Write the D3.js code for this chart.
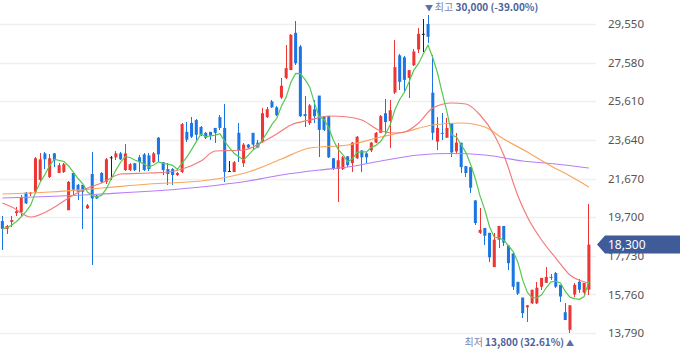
<!DOCTYPE html>
<html><head><meta charset="utf-8">
<script src="https://cdn.jsdelivr.net/npm/d3@7"></script>
<style>
html,body{margin:0;padding:0;background:#fff;overflow:hidden;}
svg{display:block;font-family:"Noto Sans","Noto Sans CJK KR",sans-serif;}
</style></head><body>
<svg id="chart" width="680" height="358"></svg>
<script>
// daily OHLC (KRW), oldest -> newest
const openP = [
19500,19100,19450,19900,19950,20950,20900,21000,21600,22950,
21750,22950,21950,22000,20050,21950,21350,21350,20150,21900,
20800,21950,21500,22750,22750,22950,22100,22100,22450,22750,
22900,22850,22500,23750,22500,22150,22150,21850,22000,24050,
24500,24650,24300,24000,24050,24250,24800,24250,22050,22000,
24000,22450,23400,24000,23500,23550,24800,25600,25300,25800,
26800,27200,29100,28400,24950,24500,25200,25900,24850,24850,
22700,22150,22150,22800,22450,22700,23100,22950,23100,23500,
24000,25000,24600,26050,27950,27850,26800,27450,28250,29050,
29550,26050,23550,24000,23750,24500,23050,23500,22300,22250,
20550,18900,19150,18900,17150,18550,19250,18250,17850,16400,
15600,15100,15300,15300,16150,16350,16600,16850,16250,14850,
13950,15750,16400,15850,16000];
const highP = [
19750,19300,19750,20200,20850,21000,21000,22750,22950,23000,
22900,22950,22450,22450,21550,22000,21400,21350,20350,23000,
20850,22000,22700,22800,23050,23000,23450,22450,22450,22850,
22950,22950,23000,23800,22500,22450,22200,22000,24500,24550,
24800,24700,24350,24050,24050,24250,24900,25450,22550,22550,
24500,23500,23450,24000,23650,25250,25300,25650,25350,26800,
28500,29050,29700,28500,25900,25450,25650,25900,24850,24850,
22700,23500,22800,22800,23550,23850,23100,23000,23550,24050,
24900,25750,25650,28750,28000,27900,27200,28250,29350,29800,
30000,27950,24800,25000,24750,24500,24000,23500,22300,22250,
20550,20150,19150,18900,18900,19250,19250,18300,17850,16400,
15600,15200,16000,16400,16600,17150,16800,16900,16250,15300,
15200,16350,16550,16350,20350];
const lowP = [
18000,18850,19200,19750,19750,20350,20800,21000,21550,22150,
21700,22250,21950,21950,20050,20850,20550,19100,20100,17250,
20600,21450,21400,21600,22600,22600,22050,22050,22050,22000,
22050,22050,22450,22500,21850,21350,21350,21800,21950,23550,
23750,23650,23850,23700,23650,23500,24150,21500,22000,22000,
22500,22250,23150,23100,23250,23500,24750,25250,24850,25750,
26750,27200,27450,24800,24300,24400,24500,22750,24100,22700,
22100,20450,22100,22250,22000,22650,22000,22450,23000,23500,
24000,24000,23250,26000,26200,26050,25800,27400,28050,28100,
28600,23650,23100,23650,23750,22750,22950,21950,21750,20950,
19300,18850,18300,17400,17150,18150,18250,17000,16000,15750,
14550,14350,15250,15250,16000,16350,16500,16100,15350,14450,
13800,15650,15850,15750,15750];
const closeP = [
19100,19250,19550,20000,20700,20400,20950,22700,22650,22650,
22700,22600,22350,22400,21500,21100,21000,21000,20300,20650,
20650,21500,22650,22750,22950,22650,22950,22400,22100,22500,
22100,22150,22950,22900,22100,21900,21850,21950,24450,23650,
23800,23900,23900,23750,23850,24000,24250,22000,22050,22500,
23100,23400,23250,23400,23250,25000,25200,25300,24900,26400,
27300,29000,27550,24850,24850,25400,24850,24150,24150,22750,
22150,22600,22750,22350,23500,23800,22750,22750,23500,24000,
24850,24550,25150,27350,26600,26700,27200,28150,29050,29050,
28900,24000,24250,23950,24250,23000,23500,22250,21950,21200,
19400,19050,18750,17650,18550,19250,18400,17350,16150,15800,
14800,15200,16000,16100,16600,16650,16650,16150,15650,14450,
15200,16250,16000,16350,18300];

// moving averages: [day index, value]
const ma20 = [[0,20420],[2,20216],[6,19706],[10,20063],[14,20675],[17,21083],[21,21440],
  [25,21899],[31,21950],[35,22001],[38,22154],[42,22562],[45,23072],[51,23123],[55,23531],
  [58,23939],[61,24398],[65,24653],[69,24857],[73,24806],[76,24653],[80,24092],[83,23990],
  [85,24041],[88,24500],[91,25265],[95,25520],[98,25469],[101,24908],[104,23888],[106,22868],
  [109,20777],[111,19706],[114,18533],[117,17615],[120,16748],[124,16340]];
const ma60 = [[0,20879],[10,20981],[21,21185],[31,21389],[42,21542],[52,22001],[59,22664],
  [65,23225],[73,23378],[80,23786],[85,24041],[91,24398],[97,24500],[102,24296],[106,23684],
  [111,23021],[116,22307],[120,21797],[124,21236]];
const ma120 = [[0,20675],[21,20879],[42,21236],[52,21542],[59,21848],[67,22103],[73,22256],
  [80,22562],[88,22868],[95,22944],[102,22868],[110,22562],[117,22409],[124,22205]];

const yTicks = [13790,15760,17730,19700,21670,23640,25610,27580,29550];
const lastPrice = 18300;
const maxPrice = 30000, maxPct = "(-39.00%)", maxLabel = "최고";
const minPrice = 13800, minPct = "(32.61%)", minLabel = "최저";

const n = closeP.length;
const days = d3.range(n);
const svg = d3.select("#chart");

const x = d3.scaleBand().domain(days).range([0, n * 4.73]).paddingInner(0.36).paddingOuter(0.18);
const y = d3.scaleLinear().domain([13790, 29550]).range([333, 24]);
const cx = i => x(i) + x.bandwidth() / 2;

// grid
svg.append("g").selectAll("line").data(yTicks).join("line")
  .attr("x1", 0).attr("x2", 596)
  .attr("y1", d => Math.round(y(d)) + 0.5).attr("y2", d => Math.round(y(d)) + 0.5)
  .attr("stroke", "#eef0f3").attr("stroke-width", 1.6);

// axis
const ax = svg.append("g").attr("transform", "translate(604,0)")
  .call(d3.axisRight(y).tickValues(yTicks).tickFormat(d3.format(",")).tickSize(0).tickPadding(4));
ax.select(".domain").remove();
ax.selectAll("text").attr("fill", "#555").attr("font-size", 11.5)
  .attr("font-family", "'Noto Sans', sans-serif");

// candles
const colorOf = i => closeP[i] > openP[i] ? "#ef3434" : closeP[i] < openP[i] ? "#1b76e3" : "#222";
const cg = svg.append("g");
cg.selectAll("line").data(days).join("line")
  .attr("x1", i => cx(i)).attr("x2", i => cx(i))
  .attr("y1", i => y(highP[i])).attr("y2", i => y(lowP[i]))
  .attr("stroke", colorOf).attr("stroke-width", 1).attr("shape-rendering", "crispEdges");
cg.selectAll("rect").data(days).join("rect")
  .attr("x", i => x(i)).attr("width", x.bandwidth())
  .attr("y", i => y(Math.max(openP[i], closeP[i])))
  .attr("height", i => Math.max(1, Math.abs(y(openP[i]) - y(closeP[i]))))
  .attr("fill", colorOf);

// moving averages
const ma5 = days.map(i => [i, d3.mean(closeP.slice(Math.max(0, i - 4), i + 1))]);
const lineMono = d3.line().x(d => cx(d[0])).y(d => y(d[1])).curve(d3.curveMonotoneX);
const lineLin = d3.line().x(d => cx(d[0])).y(d => y(d[1]));
const mg = svg.append("g").attr("fill", "none").attr("stroke-width", 1.2);
mg.append("path").attr("d", lineMono(ma120)).attr("stroke", "#b57ff5");
mg.append("path").attr("d", lineMono(ma60)).attr("stroke", "#f9a65e");
mg.append("path").attr("d", lineMono(ma20)).attr("stroke", "#f47b7b");
mg.append("path").attr("d", lineLin(ma5)).attr("stroke", "#55c94f");

// current price tag
const py = y(lastPrice);
svg.append("path")
  .attr("d", `M597,${py} L605,${py - 9} L680,${py - 9} L680,${py + 9} L605,${py + 9} Z`)
  .attr("fill", "#3f5b98");
svg.append("text").attr("x", 608).attr("y", py).attr("dy", "0.35em")
  .attr("fill", "#fff").attr("font-size", 12).text(d3.format(",")(lastPrice));

// max / min annotations
const iMax = d3.maxIndex(highP), iMin = d3.minIndex(lowP);
const maxText = svg.append("text").attr("x", cx(iMax) - 3).attr("y", 11)
  .attr("font-size", 10).attr("font-family", "'Noto Sans CJK KR','Noto Sans',sans-serif");
maxText.append("tspan").attr("fill", "#5d6fa3").attr("font-size", 8).text("▼ ");
maxText.append("tspan").attr("fill", "#7887b3").text(maxLabel + " ");
maxText.append("tspan").attr("fill", "#4e619a").attr("font-weight", "bold")
  .text(d3.format(",")(maxPrice) + " " + maxPct);

const minText = svg.append("text").attr("x", cx(iMin) + 4).attr("y", 346).attr("text-anchor", "end")
  .attr("font-size", 10).attr("font-family", "'Noto Sans CJK KR','Noto Sans',sans-serif");
minText.append("tspan").attr("fill", "#7887b3").text(minLabel + " ");
minText.append("tspan").attr("fill", "#4e619a").attr("font-weight", "bold")
  .text(d3.format(",")(minPrice) + " " + minPct);
minText.append("tspan").attr("fill", "#5d6fa3").attr("font-size", 8).text(" ▲");
</script>
</body></html>
